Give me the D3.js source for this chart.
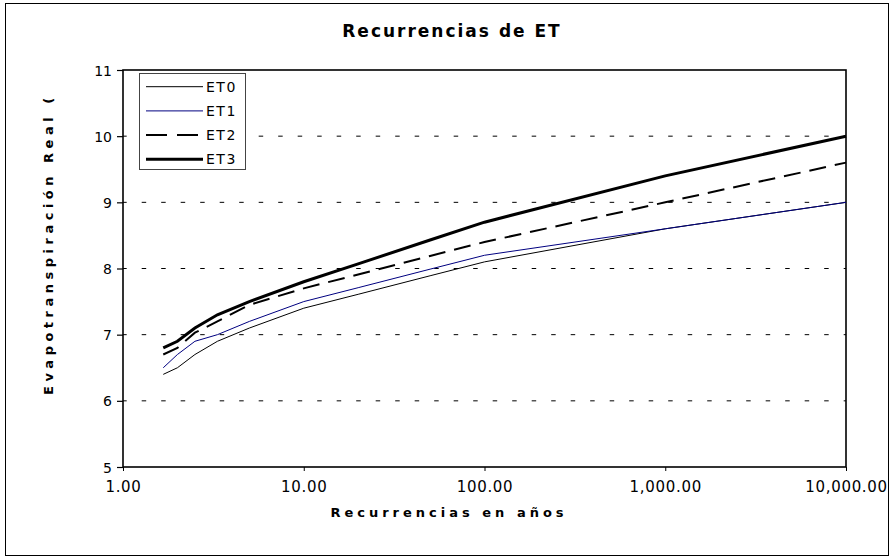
<!DOCTYPE html>
<html>
<head>
<script type="text/javascript" src="https://cdn.jsdelivr.net/npm/d3@7"></script>
<style>
body { margin: 0; background: white; }
</style>
</head>
<body>
<script>

var width = 893,
    height = 559;

// return periods (years) and ET values
var periods = [1.67, 2, 2.5, 3.33, 5, 10, 20, 50, 100, 1000, 10000];
var et0 = [6.4, 6.5, 6.7, 6.9, 7.1, 7.4, 7.61, 7.89, 8.1, 8.6, 9.0];
var et1 = [6.5, 6.7, 6.9, 7.0, 7.2, 7.5, 7.71, 7.99, 8.2, 8.6, 9.0];
var et2 = [6.7, 6.8, 7.03, 7.2, 7.45, 7.7, 7.91, 8.19, 8.4, 9.0, 9.6];
var et3 = [6.8, 6.9, 7.1, 7.3, 7.5, 7.8, 8.07, 8.43, 8.7, 9.4, 10.0];

var seriesNames = ["ET0", "ET1", "ET2", "ET3"];
var xTicks = [1, 10, 100, 1000, 10000];
var yTicks = [5, 6, 7, 8, 9, 10, 11];
var gridValues = [6, 7, 8, 9, 10];

var styles = [
  { "col": "#000000", "w": 1, "dash": null },
  { "col": "#000080", "w": 1, "dash": null },
  { "col": "#000000", "w": 2, "dash": "17,9" },
  { "col": "#000000", "w": 3, "dash": null }
];

var series = [et0, et1, et2, et3].map(function (vals, i) {
  return { "name": seriesNames[i],
           "style": styles[i],
           "pts": periods.map(function (t, j) { return [t, vals[j]]; }) };
});

// plot area (note: "top" is reserved on window, so use other names)
var pLeft = 123, pRight = 846, pTop = 70, pBottom = 467;

var x = d3.scaleLog().domain([1, 10000]).range([pLeft, pRight]);
var y = d3.scaleLinear().domain([5, 11]).range([pBottom, pTop]);

var svg = d3.select("body")
            .append("svg")
            .attr("width", width)
            .attr("height", height)
            .style("background", "white");

// outer chart border
svg.append("rect")
   .attr("x", 5.5).attr("y", 3.5)
   .attr("width", 883).attr("height", 552)
   .style("fill", "white")
   .style("stroke", "#000")
   .style("stroke-width", 1);

svg.append("text")
   .attr("x", 452).attr("y", 37)
   .attr("text-anchor", "middle")
   .style("font-family", "DejaVu Sans")
   .style("font-weight", "bold")
   .style("font-size", "17px")
   .style("letter-spacing", "2px")
   .text("Recurrencias de ET");

// gridlines
svg.append("g").selectAll("line")
   .data(gridValues)
   .enter().append("line")
   .attr("x1", pLeft).attr("x2", pRight)
   .attr("y1", function (d) { return y(d); })
   .attr("y2", function (d) { return y(d); })
   .style("stroke", "#000")
   .style("stroke-width", 1)
   .style("stroke-dasharray", "4.5,15")
   .style("stroke-dashoffset", -18.7);

// axes
var yAxis = d3.axisLeft(y).tickValues(yTicks).tickSize(6).tickPadding(5)
              .tickFormat(d3.format("d"));
var gy = svg.append("g")
            .attr("transform", "translate(" + pLeft + ",0)")
            .call(yAxis);
gy.select(".domain").remove();
gy.selectAll("line").style("stroke-width", 1.2);
gy.selectAll("text")
  .style("font-family", "DejaVu Sans")
  .style("font-size", "14px")
  .attr("dy", "0.36em");

var xAxis = d3.axisBottom(x).tickValues(xTicks).tickSize(4).tickPadding(10)
              .tickFormat(d3.format(",.2f"));
var gx = svg.append("g")
            .attr("transform", "translate(0," + pBottom + ")")
            .call(xAxis);
gx.select(".domain").remove();
gx.selectAll("text")
  .style("font-family", "DejaVu Sans")
  .style("font-size", "15px")
  .style("letter-spacing", "0.7px");

// plot frame
svg.append("rect")
   .attr("x", pLeft).attr("y", pTop)
   .attr("width", pRight - pLeft).attr("height", pBottom - pTop)
   .style("fill", "none")
   .style("stroke", "#000")
   .style("stroke-width", 1.6);

var line = d3.line()
             .x(function (d) { return x(d[0]); })
             .y(function (d) { return y(d[1]); });

svg.append("g").selectAll("path")
   .data(series)
   .enter().append("path")
   .attr("d", function (d) { return line(d.pts); })
   .style("fill", "none")
   .style("stroke", function (d) { return d.style.col; })
   .style("stroke-width", function (d) { return d.style.w; })
   .style("stroke-dasharray", function (d) { return d.style.dash; });

// axis titles
svg.append("text")
   .attr("x", 449).attr("y", 517)
   .attr("text-anchor", "middle")
   .style("font-family", "DejaVu Sans")
   .style("font-weight", "bold")
   .style("font-size", "13px")
   .style("letter-spacing", "4px")
   .text("Recurrencias en años");

svg.append("text")
   .attr("transform", "translate(53,395) rotate(-90)")
   .style("font-family", "DejaVu Sans")
   .style("font-weight", "bold")
   .style("font-size", "13px")
   .style("letter-spacing", "4.5px")
   .text("Evapotranspiración Real (");

// legend
var legend = svg.append("g");
legend.append("rect")
      .attr("x", 139.5).attr("y", 73.5)
      .attr("width", 106).attr("height", 96)
      .style("fill", "white")
      .style("stroke", "#444")
      .style("stroke-width", 1);

var rows = legend.selectAll("g.row")
                 .data(series)
                 .enter().append("g")
                 .attr("class", "row")
                 .attr("transform", function (d, i) { return "translate(0," + (86.7 + i * 24.2) + ")"; });
rows.append("line")
    .attr("x1", 146).attr("x2", 203)
    .style("stroke", function (d) { return d.style.col; })
    .style("stroke-width", function (d) { return d.style.w; })
    .style("stroke-dasharray", function (d) { return d.style.dash ? "21,10" : null; });
rows.append("text")
    .attr("x", 206).attr("y", 5)
    .style("font-family", "DejaVu Sans")
    .style("font-size", "14px")
    .style("letter-spacing", "1.5px")
    .text(function (d) { return d.name; });

</script>
</body>
</html>
